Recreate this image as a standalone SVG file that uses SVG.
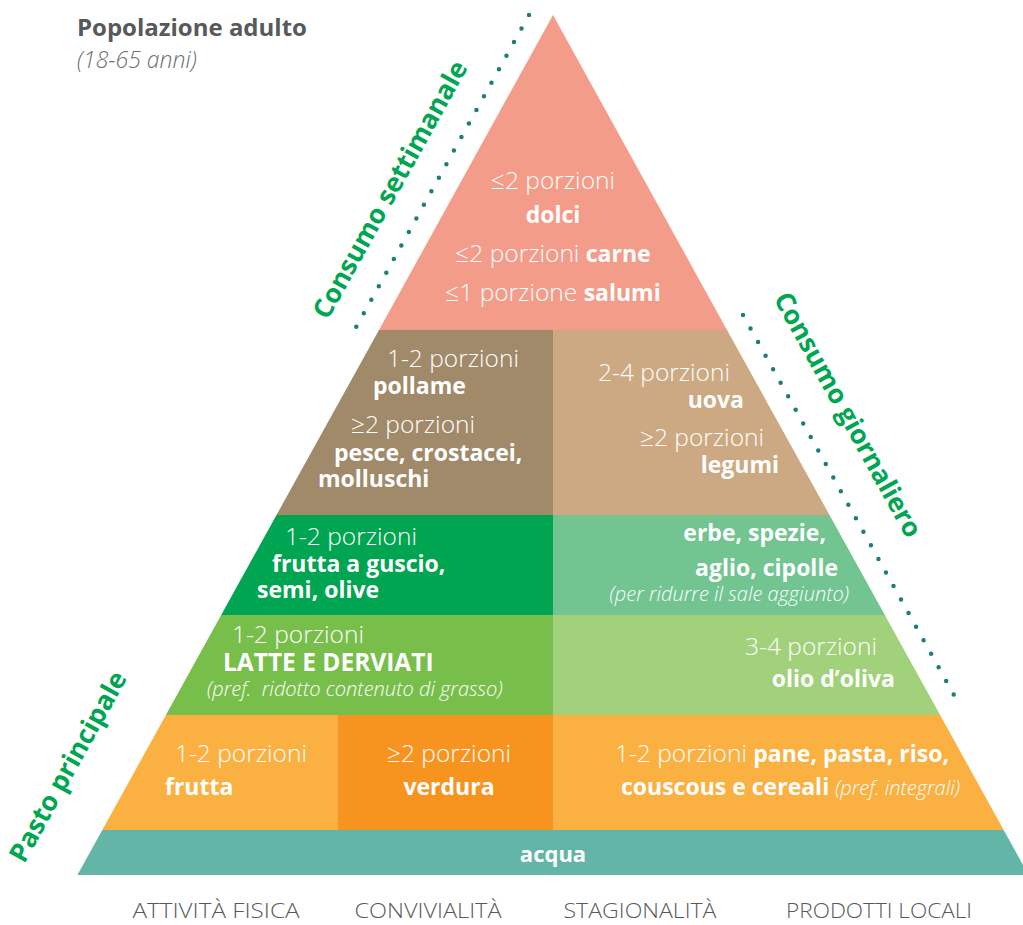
<svg xmlns="http://www.w3.org/2000/svg" width="1023" height="925" viewBox="0 0 1023 925">
  <style>
    text { font-family: "Open Sans", "Liberation Sans", sans-serif; }
    .lt { fill: #ffffff; font-size: 24.5px; font-weight: 300; }
    .bd { fill: #ffffff; font-size: 23px; font-weight: 700; }
    .it { fill: #ffffff; font-size: 20px; font-weight: 300; font-style: italic; white-space: pre; }
    .b { font-weight: 700; font-size: 23px; }
    .mid { text-anchor: middle; }
    .end { text-anchor: end; }
    .side { fill: #00A651; font-size: 26.5px; font-weight: 700; text-anchor: middle; }
    .dots { fill: none; stroke: #1B7F78; stroke-width: 4.5; stroke-linecap: round; stroke-dasharray: 0 15.5; }
    .foot { fill: #58595B; font-size: 21px; font-weight: 300; text-anchor: middle; }
  </style>

  <rect width="1023" height="925" fill="#ffffff"/>

  <!-- heading -->
  <g id="heading">
    <text x="77" y="36" style="fill:#58595B;font-size:24px;font-weight:700">Popolazione adulto</text>
    <text x="77" y="68" style="fill:#6D6E71;font-size:23px;font-weight:300;font-style:italic">(18-65 anni)</text>
  </g>

  <!-- dotted guides along the pyramid sides -->
  <g id="guides">
    <line class="dots" x1="529" y1="15" x2="354" y2="331"/>
    <line class="dots" x1="743" y1="315" x2="954" y2="695"/>
  </g>

  <!-- side labels -->
  <g id="side-labels">
    <text class="side" transform="translate(398,194) rotate(-61)">Consumo settimanale</text>
    <text class="side" transform="translate(840,419) rotate(61)">Consumo giornaliero</text>
    <text class="side" transform="translate(76,771) rotate(-61)">Pasto principale</text>
  </g>

  <!-- top: weekly -->
  <g id="tier-top">
    <polygon points="553,15 379,330 727,330" fill="#F49C8A"/>
    <text class="lt mid" x="553" y="189">≤2 porzioni</text>
    <text class="bd mid" x="553" y="223">dolci</text>
    <text class="lt mid" x="553" y="262">≤2 porzioni <tspan class="b">carne</tspan></text>
    <text class="lt mid" x="553" y="301">≤1 porzione <tspan class="b">salumi</tspan></text>
  </g>

  <!-- proteins -->
  <g id="tier-proteins-left">
    <polygon points="379,330 553,330 553,515 276.5,515" fill="#A08A6A"/>
    <text class="lt" x="387" y="367">1-2 porzioni</text>
    <text class="bd" x="373" y="394">pollame</text>
    <text class="lt" x="351" y="433">≥2 porzioni</text>
    <text class="bd" x="334" y="461">pesce, crostacei,</text>
    <text class="bd" x="318" y="487">molluschi</text>
  </g>
  <g id="tier-proteins-right">
    <polygon points="553,330 727,330 829.5,515 553,515" fill="#CCA983"/>
    <text class="lt end" x="730" y="381">2-4 porzioni</text>
    <text class="bd end" x="744" y="408">uova</text>
    <text class="lt end" x="764" y="446">≥2 porzioni</text>
    <text class="bd end" x="779" y="473">legumi</text>
  </g>

  <!-- nuts / herbs -->
  <g id="tier-nuts">
    <polygon points="276.5,515 553,515 553,615 221.2,615" fill="#00A551"/>
    <text class="lt" x="285" y="545">1-2 porzioni</text>
    <text class="bd" x="272" y="572">frutta a guscio,</text>
    <text class="bd" x="257" y="598">semi, olive</text>
  </g>
  <g id="tier-herbs">
    <polygon points="553,515 829.5,515 884.8,615 553,615" fill="#72C491"/>
    <text class="bd end" x="826" y="541">erbe, spezie,</text>
    <text class="bd end" x="838" y="576">aglio, cipolle</text>
    <text class="it end" x="849" y="601">(per ridurre il sale aggiunto)</text>
  </g>

  <!-- dairy / oil -->
  <g id="tier-dairy">
    <polygon points="221.2,615 553,615 553,715 165.9,715" fill="#78BE4B"/>
    <text class="lt" x="232" y="643">1-2 porzioni</text>
    <text class="bd" x="223" y="671" style="font-size:24.5px">LATTE E DERVIATI</text>
    <text class="it" x="207" y="696">(pref.  ridotto contenuto di grasso)</text>
  </g>
  <g id="tier-oil">
    <polygon points="553,615 884.8,615 940.1,715 553,715" fill="#A1D17B"/>
    <text class="lt end" x="877" y="655">3-4 porzioni</text>
    <text class="bd end" x="895" y="687">olio d’oliva</text>
  </g>

  <!-- main meal -->
  <g id="tier-fruit">
    <polygon points="165.9,715 338,715 338,830 102.3,830" fill="#FBB042"/>
    <text class="lt" x="175" y="762">1-2 porzioni</text>
    <text class="bd" x="165" y="795">frutta</text>
  </g>
  <g id="tier-vegetables">
    <rect x="338" y="715" width="215" height="115" fill="#F7941F"/>
    <text class="lt mid" x="449" y="762">≥2 porzioni</text>
    <text class="bd mid" x="449" y="795">verdura</text>
  </g>
  <g id="tier-cereals">
    <polygon points="553,715 940.1,715 1003.7,830 553,830" fill="#FBB042"/>
    <text class="lt" x="615" y="762">1-2 porzioni <tspan class="b">pane, pasta, riso,</tspan></text>
    <text class="bd" x="621" y="795">couscous e cereali <tspan style="font-size:20px;font-weight:300;font-style:italic">(pref. integrali)</tspan></text>
  </g>

  <!-- base -->
  <g id="tier-water">
    <polygon points="102.3,830 1003.7,830 1028.6,875 77.4,875" fill="#63B6A7"/>
    <text class="bd mid" x="553" y="862" style="font-size:22px">acqua</text>
  </g>

  <!-- lifestyle footer -->
  <g id="footer">
    <text class="foot" x="216" y="918" textLength="167" lengthAdjust="spacingAndGlyphs">ATTIVITÀ FISICA</text>
    <text class="foot" x="428" y="918" textLength="147" lengthAdjust="spacingAndGlyphs">CONVIVIALITÀ</text>
    <text class="foot" x="640" y="918" textLength="153" lengthAdjust="spacingAndGlyphs">STAGIONALITÀ</text>
    <text class="foot" x="879" y="918" textLength="186" lengthAdjust="spacingAndGlyphs">PRODOTTI LOCALI</text>
  </g>
</svg>
